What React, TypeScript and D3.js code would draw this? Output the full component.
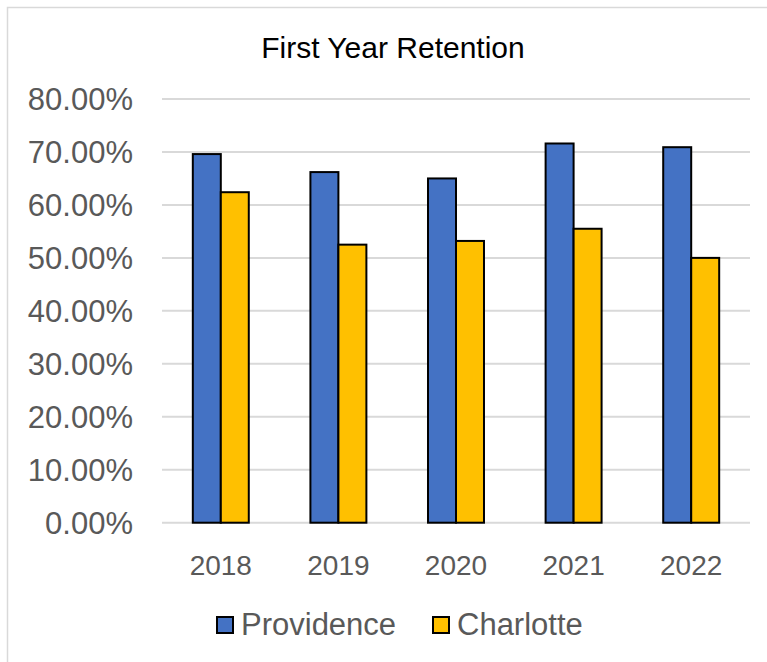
import React from "react";
import { scaleBand, scaleLinear } from "d3";

const years = ["2018", "2019", "2020", "2021", "2022"];
const seriesNames = ["Providence", "Charlotte"];
const providence = [0.696, 0.662, 0.65, 0.716, 0.709];
const charlotte = [0.624, 0.525, 0.532, 0.555, 0.5];
const yTicks = [0, 0.1, 0.2, 0.3, 0.4, 0.5, 0.6, 0.7, 0.8];

const colors = ["#4472C4", "#FFC000"];
const W = 767;
const H = 662;
const font = "'Liberation Sans', Arial, sans-serif";

export default function App() {
  const x = scaleBand().domain(years).range([162, 750]).paddingInner(0.524).paddingOuter(0.262);
  const xs = scaleBand().domain(seriesNames).range([0, x.bandwidth()]);
  const y = scaleLinear().domain([0, 0.8]).range([522.7, 99]);
  const values = [providence, charlotte];

  return (
    <div style={{ position: "absolute", left: 0, top: 0 }}>
      <svg width={W} height={H} style={{ display: "block", background: "#fff" }}>
        <rect x={7.5} y={7.5} width={800} height={700} fill="none" stroke="#D9D9D9" strokeWidth={1.5} />
        <text x={393} y={58} textAnchor="middle" fontFamily={font} fontSize={30} fill="#000">
          First Year Retention
        </text>
        {/* grid + y labels */}
        {yTicks.map((t) => (
          <g key={t}>
            <line x1={162} x2={750} y1={y(t)} y2={y(t)} stroke="#D9D9D9" strokeWidth={2} />
            <text x={133} y={y(t) + 11} textAnchor="end" fontFamily={font} fontSize={31} fill="#595959">
              {(t * 100).toFixed(2) + "%"}
            </text>
          </g>
        ))}
        {/* bars */}
        {seriesNames.map((s, si) => (
          <g key={s}>
            {years.map((yr, i) => (
              <rect
                key={yr}
                x={(x(yr) as number) + (xs(s) as number)}
                y={y(values[si][i])}
                width={xs.bandwidth()}
                height={y(0) - y(values[si][i])}
                fill={colors[si]}
                stroke="#000"
                strokeWidth={2}
              />
            ))}
          </g>
        ))}
        {/* x labels */}
        {years.map((yr) => (
          <text
            key={yr}
            x={(x(yr) as number) + x.bandwidth() / 2}
            y={575}
            textAnchor="middle"
            fontFamily={font}
            fontSize={28}
            fill="#595959"
          >
            {yr}
          </text>
        ))}
        {/* legend */}
        {seriesNames.map((s, si) => {
          const lx = [217, 433][si];
          return (
            <g key={s}>
              <rect x={lx} y={617} width={16} height={16} fill={colors[si]} stroke="#000" strokeWidth={2} />
              <text x={lx + 24} y={635} fontFamily={font} fontSize={31} fill="#595959">
                {s}
              </text>
            </g>
          );
        })}
      </svg>
    </div>
  );
}
